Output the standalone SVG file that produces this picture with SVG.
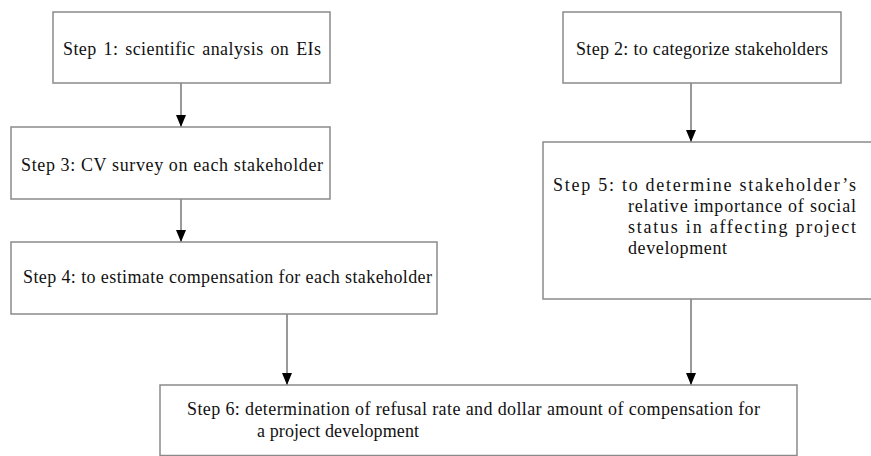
<svg xmlns="http://www.w3.org/2000/svg" width="871" height="456" viewBox="0 0 871 456">
<defs>
<style>
.box{fill:#fff;stroke:#8a8a8a;stroke-width:1.5}
.t{font-family:'Liberation Serif',serif;font-size:18px;fill:#111}
.c{stroke:#777;stroke-width:1.5;fill:none;marker-end:url(#ah)}
</style>
<marker id="ah" markerWidth="12" markerHeight="10" refX="12" refY="5" orient="auto" markerUnits="userSpaceOnUse">
<path d="M0,0 L12,5 L0,10 Z" fill="#000"/>
</marker>
</defs>
<rect width="871" height="456" fill="#fff"/>
<g id="connectors">
<line class="c" x1="181" y1="83" x2="181" y2="127"/>
<line class="c" x1="181" y1="199" x2="181" y2="242"/>
<line class="c" x1="691" y1="83" x2="691" y2="142"/>
<line class="c" x1="287" y1="314" x2="287" y2="385"/>
<line class="c" x1="691" y1="299" x2="691" y2="385"/>
</g>
<g id="step1">
<rect class="box" x="53" y="12" width="277" height="71"/>
<text class="t" x="63" y="55" textLength="258" lengthAdjust="spacing" word-spacing="2">Step 1: scientific analysis on EIs</text>
</g>
<g id="step2">
<rect class="box" x="563" y="12" width="278" height="71"/>
<text class="t" x="576" y="55" textLength="252" lengthAdjust="spacing">Step 2: to categorize stakeholders</text>
</g>
<g id="step3">
<rect class="box" x="11" y="127" width="319" height="72"/>
<text class="t" x="21" y="171" textLength="302" lengthAdjust="spacing">Step 3: CV survey on each stakeholder</text>
</g>
<g id="step4">
<rect class="box" x="11" y="242" width="426" height="72"/>
<text class="t" x="23" y="283" textLength="409" lengthAdjust="spacing">Step 4: to estimate compensation for each stakeholder</text>
</g>
<g id="step5">
<rect class="box" x="543" y="142" width="340" height="157"/>
<text class="t" x="553" y="191" textLength="303" lengthAdjust="spacing">Step 5: to determine stakeholder’s</text>
<text class="t" x="628" y="212" textLength="228" lengthAdjust="spacing">relative importance of social</text>
<text class="t" x="628" y="233" textLength="228" lengthAdjust="spacing">status in affecting project</text>
<text class="t" x="628" y="254" textLength="99" lengthAdjust="spacing">development</text>
</g>
<g id="step6">
<rect class="box" x="160" y="385" width="637" height="70.5"/>
<text class="t" x="187" y="415" textLength="573" lengthAdjust="spacing">Step 6: determination of refusal rate and dollar amount of compensation for</text>
<text class="t" x="257" y="437" textLength="162" lengthAdjust="spacing">a project development</text>
</g>
</svg>
